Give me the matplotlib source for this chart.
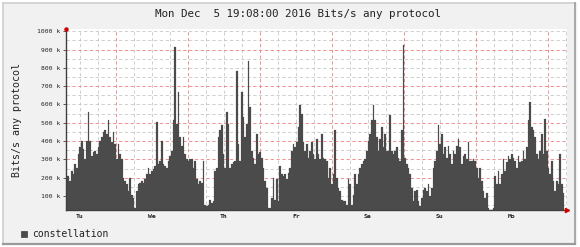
import matplotlib
matplotlib.use("Agg")
import matplotlib.pyplot as plt
from matplotlib.patches import Rectangle
from matplotlib.lines import Line2D

title = "Mon Dec  5 19:08:00 2016 Bits/s any protocol"
ylabel = "Bits/s any protocol"
legend_label = "constellation"
day_labels = ["Tu", "We", "Th", "Fr", "Sa", "Su", "Mo"]
ytick_values = [100, 200, 300, 400, 500, 600, 700, 800, 900, 1000]
ytick_labels = ["100 k", "200 k", "300 k", "400 k", "500 k", "600 k", "700 k", "800 k", "900 k", "1000 k"]
red_grid = [200, 300, 400, 500, 700, 900]

# traffic samples (k), ~33 min apart, starting Tuesday 07:20
traffic = [
    209, 209, 181, 237, 218, 273, 255, 329, 366, 403, 356, 301, 403, 559, 403, 320, 338, 347, 329, 366,
    403, 421, 448, 458, 439, 513, 421, 393, 448, 384, 301, 384, 329, 301, 200, 181, 163, 126, 200, 108,
    89, 34, 126, 163, 172, 181, 172, 191, 218, 255, 218, 237, 246, 264, 504, 273, 292, 403, 273, 264,
    255, 292, 320, 347, 513, 914, 494, 669, 421, 375, 421, 329, 301, 292, 301, 301, 255, 292, 191, 163,
    181, 172, 292, 52, 43, 52, 80, 62, 71, 237, 255, 421, 458, 485, 329, 255, 559, 494, 255, 273,
    283, 292, 780, 384, 292, 669, 531, 421, 494, 835, 587, 347, 310, 273, 439, 329, 338, 310, 255, 181,
    145, 34, 34, 89, 200, 80, 191, 71, 264, 218, 209, 218, 191, 227, 255, 347, 384, 366, 393, 476,
    596, 550, 393, 347, 384, 310, 347, 393, 329,
    301, 412, 329, 301, 439, 310, 301, 292, 200, 255, 163, 218, 458, 200, 145, 126, 80, 71, 71, 52,
    191, 163, 52, 108, 218, 163, 218, 255, 273, 292, 301, 347, 403, 439, 513, 596, 513, 421, 347, 412,
    476, 366, 439, 347, 347, 541, 347, 329, 347, 366, 310, 292, 458, 927, 310, 273, 255, 218, 145, 71,
    126, 135, 71, 43, 89, 135, 145, 126, 163, 99, 145, 255, 292, 347, 485, 384, 439, 329, 366, 310,
    375, 329, 273, 347, 329, 375, 412, 366, 273, 320, 329, 301, 393, 292, 292, 301, 292, 255, 200, 255,
    181, 126, 89, 117, 34, 25, 25, 34, 209, 163, 237, 163, 218, 301, 237, 283, 320, 301, 329, 310,
    292, 255, 320, 283, 292, 347, 301, 366, 513, 614, 476, 458, 421, 329, 301, 347, 439, 329, 522, 347,
    255, 218, 292, 181, 126, 181, 163, 329, 163, 117,
]

W, H = 580, 247
fig = plt.figure(figsize=(W / 100, H / 100), dpi=100)
fig.patch.set_facecolor("#f1f1f1")

# rrdtool style frame
fig.patches.append(Rectangle((0, 0), 1, 1, transform=fig.transFigure, facecolor="none",
                             edgecolor="white", lw=4, zorder=-5))
fig.lines.append(Line2D([3 / W, 575 / W], [1 - 3 / H, 1 - 3 / H], transform=fig.transFigure, color="#cfcfcf", lw=1.2, zorder=-4))
fig.lines.append(Line2D([3 / W, 3 / W], [1 - 3 / H, 1 - 244 / H], transform=fig.transFigure, color="#cfcfcf", lw=1.2, zorder=-4))
fig.lines.append(Line2D([3 / W, 575 / W], [1 - 244 / H, 1 - 244 / H], transform=fig.transFigure, color="#9a9a9a", lw=1.6, zorder=-4))
fig.lines.append(Line2D([575 / W, 575 / W], [1 - 3 / H, 1 - 244 / H], transform=fig.transFigure, color="#9a9a9a", lw=1.2, zorder=-4))

left, right, top, bottom = 66, 567, 29, 210
ax = fig.add_axes([left / W, 1 - bottom / H, (right - left) / W, (bottom - top) / H])
ax.set_facecolor("white")

start = 7 + 20 / 60.0   # hours since Tuesday 00:00
step = 5 / 9.0
span = 167.0
xs = [start + i * step for i in range(len(traffic))]
ymin, ymax = 23.5, 1012

# grid
for v in range(50, 1001, 50):
    if v in red_grid:
        continue
    ax.axhline(v, color="#c8c8c8", lw=0.6, ls=(0, (4, 3)), zorder=1)
for v in red_grid:
    ax.axhline(v, color="#f08080", lw=0.6, ls=(0, (4, 3)), zorder=1.5)
h = 6
while h < start + span:
    if h > start:
        if h % 24 == 0:
            ax.axvline(h, color="#f08080", lw=0.6, ls=(0, (4, 3)), zorder=1.5)
        else:
            ax.axvline(h, color="#c8c8c8", lw=0.6, ls=(0, (4, 3)), zorder=1)
    h += 6

ax.bar(xs, traffic, width=step, align="edge", color="#4b4b4b", edgecolor="#4b4b4b",
       linewidth=0.15, zorder=3)

ax.set_xlim(start, start + span)
ax.set_ylim(ymin, ymax)

for s in ["top", "right"]:
    ax.spines[s].set_visible(False)
for s in ["left", "bottom"]:
    ax.spines[s].set_color("#404040")
    ax.spines[s].set_linewidth(1.0)
    ax.spines[s].set_zorder(5)

ax.set_yticks(ytick_values)
ax.set_yticklabels(ytick_labels, fontsize=4.6, family="DejaVu Sans Mono", color="#222222")
ax.tick_params(axis="y", length=2, width=0.6, color="#404040", pad=2)

noon = [12 + 24 * i for i in range(len(day_labels))]
ax.set_xticks(noon)
ax.set_xticklabels(day_labels, fontsize=4.6, family="DejaVu Sans Mono", fontweight="bold", color="#222222")
ax.tick_params(axis="x", length=0, pad=3)

# arrows at axis ends
ax.plot([start + span], [ymin], marker=">", color="#d00000", ms=3, clip_on=False, zorder=6)
ax.plot([start], [ymax], marker="o", color="#d00000", ms=2.2, clip_on=False, zorder=6)

fig.text(298 / W, 1 - 14 / H, title, ha="center", va="center", fontsize=7.8,
         family="DejaVu Sans Mono", color="#222222")
fig.text(17 / W, 1 - 120 / H, ylabel, ha="center", va="center", rotation=90, fontsize=7.2,
         family="DejaVu Sans Mono", color="#222222")

# legend
fig.patches.append(Rectangle((21 / W, 1 - 237 / H), 6 / W, 6 / H, transform=fig.transFigure,
                             facecolor="#4b4b4b", edgecolor="#222222", lw=0.4))
fig.text(32 / W, 1 - 234 / H, legend_label, ha="left", va="center", fontsize=7,
         family="DejaVu Sans Mono", color="#222222")

fig.savefig("out.png", dpi=100, facecolor=fig.get_facecolor())
